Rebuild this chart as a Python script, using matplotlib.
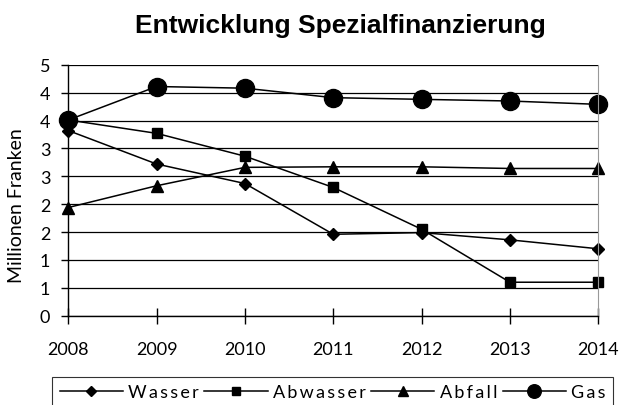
import matplotlib.pyplot as plt
from matplotlib.ticker import MultipleLocator, FuncFormatter

plt.rcParams['font.family'] = ['Lato', 'DejaVu Sans']

# data (Millionen Franken)
years = [2008, 2009, 2010, 2011, 2012, 2013, 2014]
wasser = [3.32, 2.72, 2.37, 1.46, 1.49, 1.36, 1.20]
abwasser = [3.51, 3.27, 2.86, 2.30, 1.55, 0.60, 0.60]
abfall = [1.94, 2.33, 2.66, 2.67, 2.67, 2.64, 2.64]
gas = [3.51, 4.11, 4.08, 3.91, 3.88, 3.85, 3.79]
names = ['Wasser', 'Abwasser', 'Abfall', 'Gas']

fig = plt.figure(figsize=(6.22, 4.06), dpi=100)
ax = fig.add_axes([0.1098, 0.22, 0.852, 0.618])

# letter-spaced legend labels like the original
spaced = ['\u2009'.join(n) for n in names]
ax.plot(years, wasser, color='black', lw=1.1, marker='D', ms=6.5, label=spaced[0])
ax.plot(years, abwasser, color='black', lw=1.1, marker='s', ms=7.5, label=spaced[1])
ax.plot(years, abfall, color='black', lw=1.1, marker='^', ms=9, label=spaced[2])
ax.plot(years, gas, color='black', lw=1.1, marker='o', ms=13, label=spaced[3])
for line in ax.lines:
    line.set_clip_on(False)

ax.set_xlim(2008, 2014)
ax.set_ylim(0, 4.5)
ax.yaxis.set_major_locator(MultipleLocator(0.5))
ax.set_xticks(years)
# Excel-style integer rounding of the 0.5 steps
ax.yaxis.set_major_formatter(FuncFormatter(lambda v, p: str(int(v + 0.5 + 1e-9))))
ax.grid(axis='y', color='black', lw=0.9)
ax.set_axisbelow(True)

ax.spines['top'].set_visible(False)
ax.spines['right'].set_color('#999999')
ax.spines['left'].set_linewidth(1.0)
ax.spines['bottom'].set_linewidth(1.0)
ax.tick_params(axis='x', direction='inout', length=11, width=1, pad=13, labelsize=13)
ax.tick_params(axis='y', direction='out', length=5, width=1, pad=8, labelsize=13)

fig.text(17 / 622, 1 - 206 / 406, 'Millionen Franken', rotation=90, ha='center',
         va='center', fontsize=14)
fig.text(0.548, 0.936, 'Entwicklung Spezialfinanzierung', ha='center', va='center',
         fontsize=19, fontweight='bold', family='Liberation Sans')

leg = fig.legend(loc='upper center', bbox_to_anchor=(0.535, 0.069), ncol=4, frameon=True,
                 fancybox=False, edgecolor='black', fontsize=13, handlelength=3.5,
                 handletextpad=0.3, columnspacing=0.3, borderpad=0.4, borderaxespad=0,
                 markerscale=0.75)
leg.get_frame().set_linewidth(0.8)

plt.savefig('out.png', dpi=100)
